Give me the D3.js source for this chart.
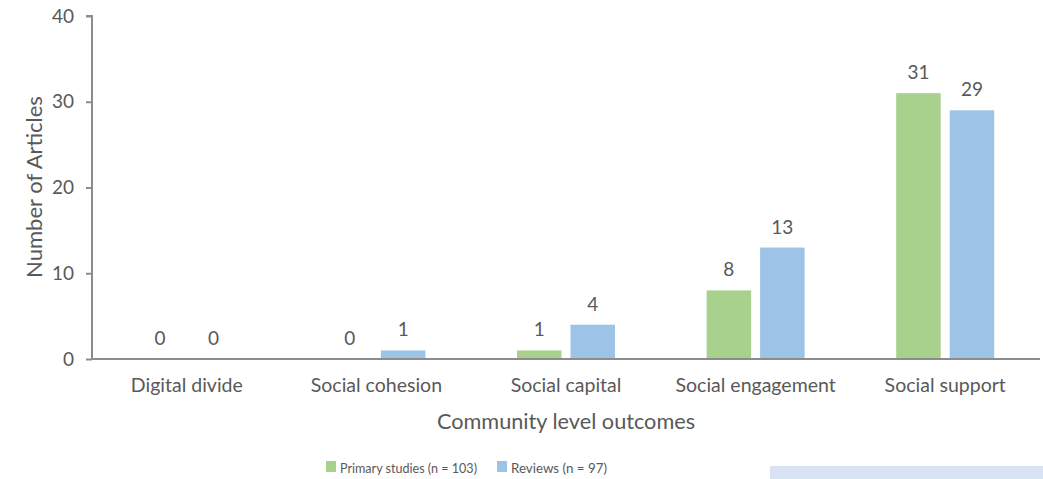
<!DOCTYPE html>
<html><head><meta charset="utf-8">
<script src="https://cdn.jsdelivr.net/npm/d3@7"></script>
<style>body{margin:0;background:#fff;} svg{display:block;}</style>
</head><body>
<svg id="c" width="1043" height="479"></svg>
<script>
const categories = ["Digital divide","Social cohesion","Social capital","Social engagement","Social support"];
const seriesNames = ["Primary studies (n = 103)","Reviews (n = 97)"];
const primary = [0,0,1,8,31];
const reviews = [0,1,4,13,29];
const yTicks = [0,10,20,30,40];
const colors = ["#a9d18e","#9dc3e6"];

(function(){
const svg = d3.select("#c");
const font = "Lato, sans-serif";
const textCol = "#595959";
const axisCol = "#8c8c8c";
const mLeft = 92, mRight = 1040, mTop = 16, mBottom = 359;

const x = d3.scaleBand().domain(categories).range([mLeft, mRight]).padding(0);
const inner = d3.scaleBand().domain([0,1]).range([0, x.bandwidth()]).paddingInner(0.168).paddingOuter(0.856);
const y = d3.scaleLinear().domain([0,40]).range([mBottom, mTop]);

svg.append("rect").attr("x",770).attr("y",466).attr("width",273).attr("height",13).attr("fill","#dae3f3");

const yAxis = svg.append("g").attr("transform",`translate(${mLeft},0)`)
  .call(d3.axisLeft(y).tickValues(yTicks).tickSize(6).tickPadding(12));
yAxis.select(".domain").attr("stroke",axisCol).attr("stroke-width",2).attr("d",`M-6,${mTop}H0V${mBottom}`);
yAxis.selectAll(".tick line").attr("stroke",axisCol).attr("stroke-width",2);
yAxis.selectAll(".tick text").attr("fill",textCol).style("font-family",font).style("font-size","19px");

const data = categories.map((c,i)=>({c, v:[primary[i], reviews[i]]}));
const groups = svg.append("g").selectAll("g").data(data).join("g")
  .attr("transform", d=>`translate(${x(d.c)},0)`);
groups.selectAll("rect").data(d=>d.v.map((v,k)=>({v,k}))).join("rect")
  .attr("x", d=>inner(d.k)).attr("width", inner.bandwidth())
  .attr("y", d=>y(d.v)).attr("height", d=>y(0)-y(d.v))
  .attr("fill", d=>colors[d.k]);
groups.selectAll("text").data(d=>d.v.map((v,k)=>({v,k}))).join("text")
  .attr("x", d=>inner(d.k)+inner.bandwidth()/2).attr("y", d=>y(d.v)-14)
  .attr("text-anchor","middle").attr("fill",textCol)
  .style("font-family",font).style("font-size","19px").text(d=>d.v);

const xAxis = svg.append("g").attr("transform",`translate(0,${mBottom})`)
  .call(d3.axisBottom(x).tickSize(0).tickPadding(19));
xAxis.select(".domain").attr("stroke",axisCol).attr("stroke-width",2).attr("d",`M${mLeft},0H${mRight}`);
xAxis.selectAll(".tick text").attr("fill",textCol).style("font-family",font).style("font-size","19.5px");

svg.append("text").attr("x",566).attr("y",429).attr("text-anchor","middle")
  .attr("fill",textCol).style("font-family",font).style("font-size","21.7px").text("Community level outcomes");
svg.append("text").attr("transform",`translate(42,187) rotate(-90)`).attr("text-anchor","middle")
  .attr("fill",textCol).style("font-family",font).style("font-size","22px").text("Number of Articles");

const legX = [326, 497];
const legW = [137, 96];
const leg = svg.append("g").selectAll("g").data(seriesNames).join("g")
  .attr("transform",(d,i)=>`translate(${legX[i]},461)`);
leg.append("rect").attr("width",10).attr("height",11).attr("fill",(d,i)=>colors[i]);
leg.append("text").attr("x",14).attr("y",12).attr("fill",textCol)
  .attr("textLength",(d,i)=>legW[i]).attr("lengthAdjust","spacingAndGlyphs")
  .style("font-family",font).style("font-size","14px").text(d=>d);
})();
</script>
</body></html>
